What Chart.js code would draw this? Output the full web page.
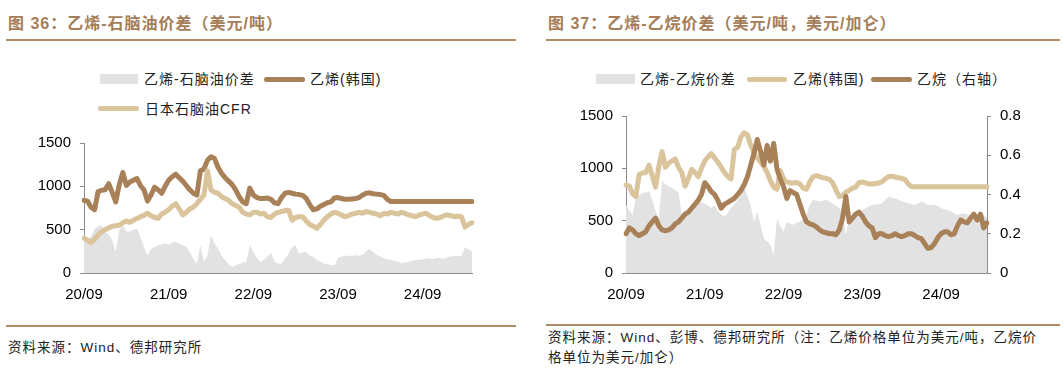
<!DOCTYPE html>
<html>
<head>
<meta charset="utf-8">
<script src="https://cdn.jsdelivr.net/npm/chart.js@4.4.0/dist/chart.umd.min.js"></script>
<style>
    body { margin: 0; width: 1063px; height: 371px; background: #fff; position: relative; overflow: hidden;
           font-family: "Liberation Sans", "Noto Sans CJK SC", sans-serif; }
    .abs { position: absolute; }
    .title { font-size: 16px; font-weight: bold; color: #a57d58; letter-spacing: 1px; white-space: nowrap;
             font-family: "Liberation Sans", "Noto Sans CJK SC", sans-serif; }
    .rule { height: 2px; background: #b08c66; }
    .src { font-size: 13.5px; color: #222; letter-spacing: 1px; line-height: 20px; white-space: nowrap; }
    .lg { font-size: 14px; color: #222; letter-spacing: 1px; white-space: nowrap; line-height: 16px; }
    .sw-box { height: 10px; background: #e2e2e2; }
    .sw-line { height: 5px; border-radius: 3px; }
</style>
</head>
<body>

<!-- left panel -->
<div class="abs title" style="left:8px; top:10px;">图 36：乙烯-石脑油价差（美元/吨）</div>
<div class="abs rule" style="left:6px; top:39px; width:510px;"></div>
<div class="abs sw-box" style="left:100px; top:74px; width:38px;"></div>
<div class="abs lg" style="left:144px; top:71px;">乙烯-石脑油价差</div>
<div class="abs sw-line" style="left:264px; top:77px; width:41px; background:#a88158;"></div>
<div class="abs lg" style="left:310px; top:71px;">乙烯(韩国)</div>
<div class="abs sw-line" style="left:98px; top:106px; width:41px; background:#d9c49b;"></div>
<div class="abs lg" style="left:145px; top:101px;">日本石脑油CFR</div>
<canvas id="chartNaphtha" class="abs" style="left:0; top:125px;" width="520" height="180"></canvas>
<div class="abs rule" style="left:6px; top:325px; width:510px;"></div>
<div class="abs src" style="left:8px; top:338px;">资料来源：Wind、德邦研究所</div>

<!-- right panel -->
<div class="abs title" style="left:548px; top:10px;">图 37：乙烯-乙烷价差（美元/吨，美元/加仑）</div>
<div class="abs rule" style="left:546px; top:39px; width:514px;"></div>
<div class="abs sw-box" style="left:596px; top:74px; width:39px;"></div>
<div class="abs lg" style="left:640px; top:71px;">乙烯-乙烷价差</div>
<div class="abs sw-line" style="left:747px; top:77px; width:40px; background:#d9c49b;"></div>
<div class="abs lg" style="left:793px; top:71px;">乙烯(韩国)</div>
<div class="abs sw-line" style="left:871px; top:77px; width:41px; background:#a88158;"></div>
<div class="abs lg" style="left:917px; top:71px;">乙烷（右轴）</div>
<canvas id="chartEthane" class="abs" style="left:540px; top:98px;" width="523" height="207"></canvas>
<div class="abs rule" style="left:546px; top:324px; width:514px;"></div>
<div class="abs src" style="left:548px; top:328px;">资料来源：Wind、彭博、德邦研究所（注：乙烯价格单位为美元/吨，乙烷价<br>格单位为美元/加仑）</div>

<script>
// half-month samples, 2020-09 .. 2025-04
const yearTicks = ["20/09", "21/09", "22/09", "23/09", "24/09"];

// 乙烯(韩国) USD/t
const ethyleneKorea = [
    840, 830, 760, 730, 940, 955, 960, 1030, 930, 820,
    1020, 1160, 1010, 1050, 1070, 1090, 1010, 960, 830, 900,
    990, 960, 920, 1000, 1070, 1110, 1140, 1100, 1060, 1010,
    960, 920, 900, 1180, 1200, 1300, 1340, 1320, 1220, 1150,
    1100, 1060, 1020, 960, 880, 820, 800, 980, 900, 870,
    860, 860, 865, 850, 810, 800, 870, 920, 930, 920,
    910, 905, 895, 860, 790, 730, 740, 770, 790, 810,
    820, 865, 870, 860, 850, 850, 855, 860, 870, 900,
    920, 925, 915, 910, 905, 895, 850, 825, 825, 825,
    825, 825, 825, 825, 825, 825, 825, 825, 825, 825,
    825, 825, 825, 825, 825, 825, 825, 825, 825, 825,
    825
];

// 日本石脑油CFR USD/t
const naphthaJapan = [
    400, 380, 350, 390, 440, 475, 500, 520, 540, 545,
    550, 580, 600, 585, 610, 630, 650, 665, 690, 660,
    640, 630, 680, 700, 730, 770, 800, 740, 670, 700,
    740, 760, 800, 850, 900, 1180, 960, 930, 920, 880,
    860, 840, 800, 780, 760, 700, 680, 670, 700, 700,
    680, 690, 650, 640, 680, 700, 710, 720, 725, 610,
    640, 650, 650, 600, 560, 540, 515, 560, 610, 650,
    680, 700, 690, 670, 650, 660, 680, 690, 700, 690,
    710, 700, 690, 680, 660, 690, 680, 700, 690, 680,
    700, 690, 670, 660, 650, 670, 680, 690, 660, 640,
    630, 640, 660, 670, 660, 650, 655, 650, 530, 560,
    580
];

// 乙烯-石脑油价差 USD/t
const spreadNaphtha = [
    440, 360, 420, 510, 540, 550, 470, 450, 380, 245,
    500, 550, 480, 480, 500, 510, 420, 300, 205, 280,
    300, 320, 330, 340, 330, 350, 360, 340, 320, 300,
    245, 160, 110, 320, 130, 200, 440, 340, 280, 200,
    150, 100, 70, 90, 100, 120, 130, 320, 250, 170,
    130, 150, 190, 230, 130, 110, 110, 170, 220, 300,
    320, 220, 240, 245, 200, 190, 150, 130, 110, 100,
    90, 90, 170, 190, 200, 200, 195, 205, 200, 210,
    250, 280, 240, 210, 190, 170, 160, 150, 145, 130,
    110, 120, 130, 140, 150, 150, 160, 165, 170, 160,
    175, 170, 165, 180, 190, 200, 195, 190, 300, 270,
    250
];

// 乙烷 USD/gal (right axis)
const ethaneUS = [
    0.20, 0.23, 0.22, 0.20, 0.19, 0.20, 0.21, 0.24, 0.26, 0.28,
    0.24, 0.22, 0.215, 0.22, 0.23, 0.25, 0.26, 0.28, 0.30, 0.31,
    0.33, 0.35, 0.37, 0.40, 0.46, 0.44, 0.415, 0.40, 0.37, 0.33,
    0.35, 0.36, 0.37, 0.38, 0.40, 0.42, 0.45, 0.49, 0.55, 0.61,
    0.68, 0.62, 0.55, 0.65, 0.57, 0.66, 0.53, 0.48, 0.44, 0.38,
    0.42, 0.41, 0.40, 0.35, 0.30, 0.26, 0.25, 0.245, 0.235, 0.22,
    0.21, 0.205, 0.20, 0.20, 0.195, 0.22, 0.28, 0.39, 0.26, 0.28,
    0.30, 0.31, 0.29, 0.26, 0.24, 0.23, 0.18, 0.20, 0.20, 0.19,
    0.185, 0.19, 0.20, 0.19, 0.185, 0.19, 0.20, 0.20, 0.19, 0.18,
    0.175, 0.15, 0.125, 0.13, 0.15, 0.18, 0.20, 0.21, 0.21, 0.195,
    0.20, 0.24, 0.27, 0.26, 0.255, 0.28, 0.30, 0.27, 0.30, 0.23,
    0.255
];

// 乙烯-乙烷价差 USD/t
const spreadEthane = [
    650, 600, 555, 715, 740, 765, 770, 780, 700, 590,
    520, 880, 850, 830, 815, 790, 765, 555, 555, 600,
    650, 670, 685, 675, 665, 640, 620, 650, 590, 560,
    540, 570, 620, 650, 700, 765, 830, 730, 650, 490,
    590, 460, 330, 300, 270, 170, 520, 450, 395, 490,
    470, 460, 480, 490, 520, 555, 650, 700, 690, 685,
    690, 700, 680, 665, 640, 620, 555, 365, 520, 555,
    570, 590, 600, 620, 635, 650, 655, 660, 665, 700,
    730, 720, 715, 700, 685, 675, 665, 660, 650, 665,
    685, 670, 650, 650, 650, 640, 620, 610, 600, 590,
    570, 555, 565, 570, 560, 555, 550, 540, 545, 555,
    525
];

const BROWN = "#a88158";
const TAN   = "#d9c49b";
const GREY  = "#e2e2e2";
const AXIS  = "#8c8c8c";

// category labels: one per half month, year label every 24 samples
const dates = [];
for (let i = 0; i < ethyleneKorea.length; i++) {
    const m = 8 + Math.floor(i / 2);
    const y = 2020 + Math.floor(m / 12);
    dates.push(y + "-" + String(m % 12 + 1).padStart(2, "0") + (i % 2 ? "-16" : "-01"));
}

const tickFont = {family: "Liberation Sans", size: 15};

function lineSet(label, data, color, axis) {
    return {
        label      : label,
        data       : data,
        yAxisID    : axis || "y",
        borderColor: color,
        borderWidth: 5,
        pointRadius: 0,
        borderJoinStyle: "round",
        borderCapStyle : "round",
        fill       : false
    };
}

function areaSet(label, data) {
    return {
        label          : label,
        data           : data,
        yAxisID        : "y",
        borderWidth    : 0,
        pointRadius    : 0,
        backgroundColor: GREY,
        fill           : "origin"
    };
}

function xAxis() {
    return {
        type  : "category",
        offset: false,
        border: {color: AXIS},
        grid  : {
            drawOnChartArea: false,
            tickLength     : -4,
            color          : (c) => c.index % 24 === 0 ? AXIS : "rgba(0,0,0,0)"
        },
        ticks : {
            autoSkip   : false,
            maxRotation: 0,
            padding    : 17,
            color      : "#000",
            font       : tickFont,
            callback   : (v, i) => i % 24 === 0 ? yearTicks[i / 24] : ""
        },
        afterFit: (s) => { s.height = 32; }
    };
}

function yAxis(pos, max, step, width, fmt) {
    return {
        position: pos,
        min     : 0,
        max     : max,
        border  : {color: AXIS},
        grid    : {drawOnChartArea: false, tickLength: 4, color: AXIS},
        ticks   : {stepSize: step, padding: 9, color: "#000", font: tickFont, callback: fmt},
        afterFit: (s) => { s.width = width; }
    };
}

const baseOptions = {
    responsive: false,
    animation : false,
    plugins   : {legend: {display: false}, tooltip: {enabled: false}},
    elements  : {line: {tension: 0}}
};

new Chart(document.getElementById("chartNaphtha"), {
    type: "line",
    data: {
        labels  : dates,
        datasets: [
            lineSet("日本石脑油CFR", naphthaJapan, TAN),
            lineSet("乙烯(韩国)", ethyleneKorea, BROWN),
            areaSet("乙烯-石脑油价差", spreadNaphtha)
        ]
    },
    options: Object.assign({}, baseOptions, {
        layout: {padding: {left: 0, right: 48, top: 8, bottom: 0}},
        scales: {
            x: xAxis(),
            y: yAxis("left", 1500, 500, 84, (v) => v)
        }
    })
});

new Chart(document.getElementById("chartEthane"), {
    type: "line",
    data: {
        labels  : dates,
        datasets: [
            lineSet("乙烷（右轴）", ethaneUS, BROWN, "y2"),
            lineSet("乙烯(韩国)", ethyleneKorea, TAN),
            areaSet("乙烯-乙烷价差", spreadEthane)
        ]
    },
    options: Object.assign({}, baseOptions, {
        layout: {padding: {left: 0, right: 0, top: 14, bottom: 0}},
        scales: {
            x : xAxis(),
            y : yAxis("left", 1500, 500, 86, (v) => v),
            y2: yAxis("right", 0.8, 0.2, 76, (v) => v === 0 ? "0" : v.toFixed(1))
        }
    })
});
</script>
</body>
</html>
